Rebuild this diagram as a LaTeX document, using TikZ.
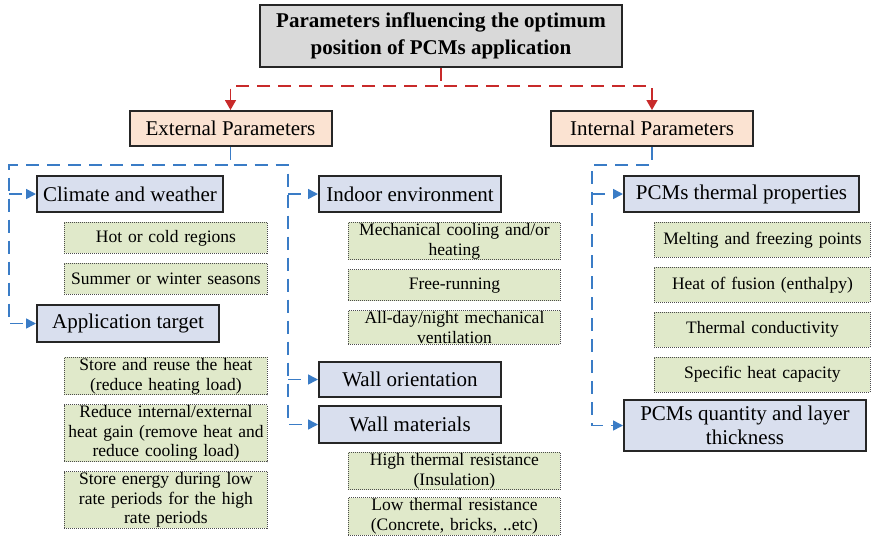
\documentclass[tikz,border=0pt]{standalone}
\usepackage{fontspec}
\setmainfont{Liberation Serif}
\usepackage{tikz}
\usetikzlibrary{positioning, arrows.meta}

\definecolor{titlegray}{HTML}{D9D9D9}
\definecolor{peach}{HTML}{FBE3D2}
\definecolor{lav}{HTML}{D9DFEE}
\definecolor{leaf}{HTML}{E0E9CA}
\definecolor{dashred}{HTML}{C82A2A}
\definecolor{dashblue}{HTML}{3A7CC6}

\begin{document}
\begin{tikzpicture}[
  x=1pt, y=-1pt,
  node distance=9pt,
  box/.style={draw=black!85, line width=2pt, align=center, inner sep=2pt,
              font=\fontsize{21}{23}\selectfont},
  titlebox/.style={box, fill=titlegray, font=\fontsize{21}{27}\selectfont\bfseries,
              minimum width=362pt, minimum height=62pt},
  sidebox/.style={box, fill=peach, minimum width=202pt, minimum height=35pt},
  catbox/.style={box, fill=lav, minimum height=36pt, anchor=north west},
  gbox/.style={draw=black!70, line width=0.9pt, dash pattern=on 1pt off 1pt,
              fill=leaf, align=center, text width=#1, inner xsep=2pt, inner ysep=1pt,
              minimum height=31pt, font=\fontsize{17.5}{19.5}\selectfont},
  redarr/.style={-{Triangle[length=10pt,width=11pt]}, dashred, line width=1.6pt,
              dash pattern=on 13pt off 8pt},
  bluearr/.style={-{Triangle[length=10pt,width=10pt]}, dashblue, line width=1.6pt,
              dash pattern=on 13pt off 8pt}
]
\useasboundingbox (0,0) rectangle (871,539);

\node[titlebox] (top) at (441,36)
  {Parameters influencing the optimum\\position of PCMs application};
\node[sidebox] (ext) at (230.5,128.5) {External Parameters};
\node[sidebox] (int) at (652,128.5) {Internal Parameters};

% external, left column
\node[catbox, minimum width=186pt] (clim) at (36,175) {Climate and weather};
\node[gbox=199pt, below=9pt of clim.south west, anchor=north west, xshift=28pt] (hot)
  {Hot or cold regions};
\node[gbox=199pt, below=of hot] (seas) {Summer or winter seasons};
\node[catbox, minimum width=182pt, minimum height=37pt] (app) at (36,304) {Application target};
\node[gbox=199pt, below=14pt of app.south west, anchor=north west, xshift=28pt] (reuse)
  {Store and reuse the heat\\(reduce heating load)};
\node[gbox=199pt, below=of reuse] (gain)
  {Reduce internal/external\\heat gain (remove heat and\\reduce cooling load)};
\node[gbox=199pt, below=of gain] (rate)
  {Store energy during low\\rate periods for the high\\rate periods};

% external, middle column
\node[catbox, minimum width=182pt] (indoor) at (318,175) {Indoor environment};
\node[gbox=208pt, below=9pt of indoor.south west, anchor=north west, xshift=30pt] (mech)
  {Mechanical cooling and/or\\heating};
\node[gbox=208pt, below=of mech] (free) {Free-running};
\node[gbox=208pt, below=of free] (vent) {All-day/night mechanical\\ventilation};
\node[catbox, minimum width=182pt, minimum height=35pt] (orient) at (318,361) {Wall orientation};
\node[catbox, minimum width=182pt, minimum height=37pt] (mat) at (318,405) {Wall materials};
\node[gbox=208pt, below=8pt of mat.south west, anchor=north west, xshift=30pt] (high)
  {High thermal resistance\\(Insulation)};
\node[gbox=208pt, below=7pt of high] (low) {Low thermal resistance\\(Concrete, bricks, ..etc)};

% internal, right column
\node[catbox, minimum width=235pt] (prop) at (623,175) {PCMs thermal properties};
\node[gbox=212pt, minimum height=35pt, below=9pt of prop.south west, anchor=north west,
  xshift=31pt] (melt) {Melting and freezing points};
\node[gbox=212pt, minimum height=35pt, below=of melt] (fus) {Heat of fusion (enthalpy)};
\node[gbox=212pt, minimum height=35pt, below=of fus] (cond) {Thermal conductivity};
\node[gbox=212pt, minimum height=35pt, below=of cond] (cap) {Specific heat capacity};
\node[catbox, minimum width=242pt, minimum height=51pt, font=\fontsize{21}{24}\selectfont]
  (qty) at (623,399) {PCMs quantity and layer\\thickness};

% connectors
\draw[redarr] (top.south) -- ++(0,18) -| (ext.north);
\draw[redarr] (top.south) -- ++(0,18) -| (int.north);

\draw[bluearr] (ext.south) -- ++(0,18) -| ([xshift=-27pt]clim.west) |- (app.west);
\draw[bluearr] ([xshift=-27pt]clim.west) -- (clim.west);
\draw[bluearr] (ext.south) -- ++(0,18) -| ([xshift=-30pt]mat.west) -- (mat.west);
\draw[bluearr] ([xshift=-30pt]indoor.west) -- (indoor.west);
\draw[bluearr] ([xshift=-30pt]orient.west) -- (orient.west);

\draw[bluearr] (int.south) -- ++(0,18) -| ([xshift=-31pt]qty.west) -- (qty.west);
\draw[bluearr] ([xshift=-31pt]prop.west) -- (prop.west);
\end{tikzpicture}
\end{document}
